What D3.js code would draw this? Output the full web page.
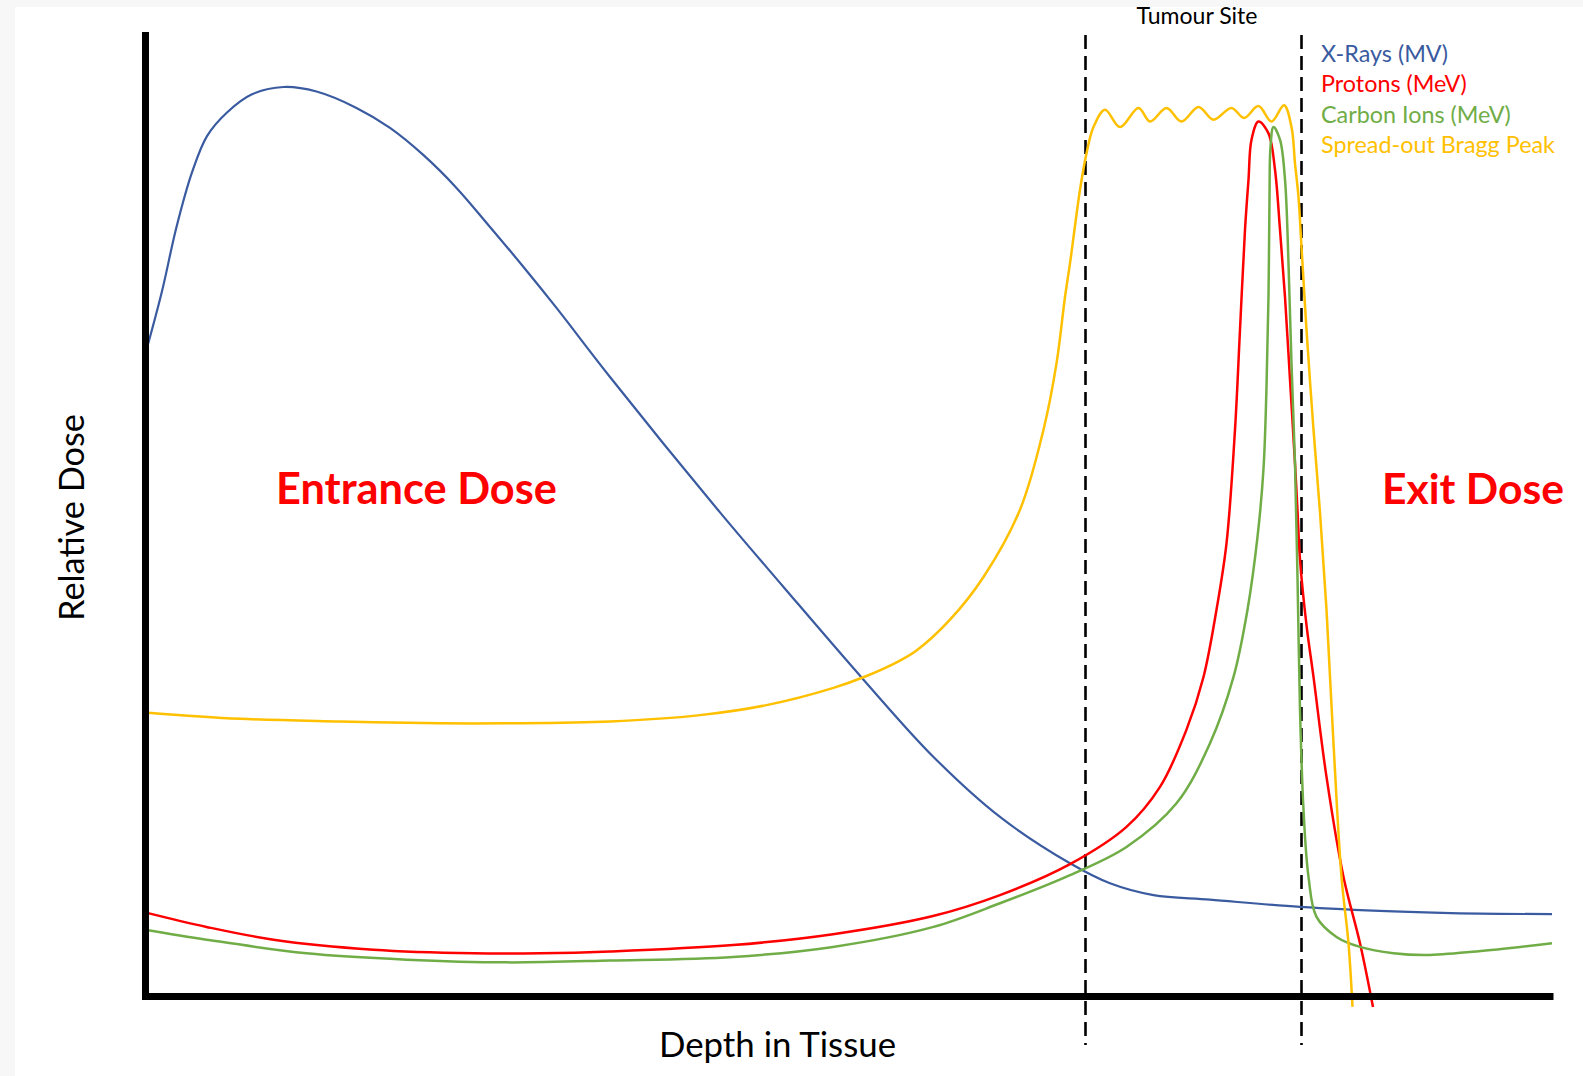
<!DOCTYPE html>
<html>
<head>
<meta charset="utf-8">
<script src="https://cdn.jsdelivr.net/npm/d3@7"></script>
<style>
  html, body { margin: 0; padding: 0; background: #f7f7f7; }
  svg { display: block; }
  text { font-family: Lato, "Open Sans", sans-serif; }
</style>
</head>
<body>
<svg id="chart" width="1583" height="1076"></svg>
<script>
// ---------- DATA (depth in arbitrary units, relative dose in %) ----------
const seriesNames = ["X-Rays (MV)", "Protons (MeV)", "Carbon Ions (MeV)", "Spread-out Bragg Peak"];
const seriesColors = ["#3a5ba0", "#ff0000", "#70ad47", "#ffc000"];

const xrays = [
  [0,70.5],[0.33,77.3],[0.63,84.6],[0.94,90.6],[1.24,94.6],[1.64,97.2],[2.14,99.2],[2.77,100],
  [3.43,99.5],[4.23,97.7],[4.9,95.5],[5.57,92.5],[6.23,88.9],[6.9,84.6],[7.57,80.2],[8.23,75.7],
  [9.3,68.1],[11.5,53.2],[12.77,45.0],[14.37,34.8],[15.77,26.3],[17.1,19.7],[18.5,14.6],
  [19.3,12.4],[20.17,11.1],[21.3,10.6],[23.1,9.8],[24.97,9.3],[26.3,9.1],[28.14,9.0]
];
const protons = [
  [0,9.2],[1.23,7.6],[2.57,6.2],[4.57,5.1],[6.57,4.7],[7.9,4.7],[9.3,4.9],[11.76,5.6],
  [13.76,6.8],[15.76,8.8],[17.1,11.1],[18.5,14.5],[19.63,18.6],[20.3,23.0],[20.83,29.3],
  [21.17,35.1],[21.43,42.5],[21.63,49.8],[21.8,62.3],[21.9,73.3],[22.0,84.3],[22.07,89.8],
  [22.13,94.2],[22.27,96.2],[22.47,94.9],[22.6,90.9],[22.7,84.3],[22.8,76.9],[22.9,67.8],
  [23.0,58.6],[23.05,53.4],[23.1,48.0],[23.23,40.8],[23.37,35.1],[23.63,24.1],[23.97,13.1],
  [24.3,5.8],[24.56,-1.2]
];
const carbon = [
  [0,7.3],[1.23,6.2],[3.23,4.7],[5.23,4.0],[7.23,3.7],[9.3,3.9],[11.76,4.3],[13.76,5.4],
  [15.77,7.6],[17.1,10.2],[18.5,13.3],[19.63,16.4],[20.63,21.2],[21.3,27.8],[21.77,35.1],
  [22.05,42.5],[22.25,50.5],[22.37,58.0],[22.43,67.0],[22.47,77.0],[22.49,87.9],[22.51,93.4],
  [22.57,95.6],[22.7,94.2],[22.8,89.8],[22.87,80.6],[22.93,69.6],[23.0,58.6],[23.05,46.1],
  [23.1,31.5],[23.17,20.5],[23.27,13.1],[23.43,8.7],[23.83,6.5],[24.3,5.4],[24.97,4.7],
  [25.63,4.5],[26.63,4.9],[28.14,5.8]
];
const sobp = [
  [0,31.2],[1.9,30.5],[3.9,30.2],[5.9,30.0],[7.23,30.0],[9.3,30.2],[11.1,30.9],[12.43,32.0],
  [13.77,33.9],[14.43,35.2],[15.1,36.9],[15.43,38.0],[16.1,41.4],[16.77,46.1],[17.5,53.5],
  [17.97,62.3],[18.23,69.6],[18.4,76.9],[18.5,80.6],[18.7,88.7],[18.83,92.7],[18.97,95.6],
  [19.2,97.5],[19.5,95.6],[19.87,97.7],[20.1,96.2],[20.43,97.7],[20.73,96.2],[21.07,97.8],
  [21.37,96.4],[21.73,97.7],[21.98,96.6],[22.27,97.9],[22.53,96.2],[22.78,98.0],[22.93,95.6],
  [23.0,91.6],[23.07,87.9],[23.13,82.4],[23.23,73.3],[23.37,62.3],[23.5,53.2],[23.63,42.5],
  [23.77,27.8],[23.93,13.1],[24.07,5.8],[24.15,-1.2]
];
const tumourBounds = [18.81, 23.13];
const xDomain = [0, 28.16];
const yDomain = [0, 100];

// ---------- LAYOUT ----------
const svg = d3.select("#chart");
svg.append("rect").attr("x", 0).attr("y", 0).attr("width", 1583).attr("height", 1076).attr("fill", "#f7f7f7");
svg.append("rect").attr("x", 15).attr("y", 7).attr("width", 1568).attr("height", 1069).attr("fill", "#ffffff");

const x = d3.scaleLinear().domain(xDomain).range([145, 1553]);
const y = d3.scaleLinear().domain(yDomain).range([996, 87]);
const plotTop = 35;

// tumour site dashed lines
svg.append("g").selectAll("line").data(tumourBounds).join("line")
  .attr("x1", d => x(d)).attr("x2", d => x(d))
  .attr("y1", plotTop).attr("y2", 1045)
  .attr("stroke", "#000").attr("stroke-width", 2.6)
  .attr("stroke-dasharray", "14,7");

// curves
const line = d3.line().x(d => x(d[0])).y(d => y(d[1])).curve(d3.curveCatmullRom.alpha(0.5));
const allSeries = [xrays, protons, carbon, sobp];
const widths = [2.2, 2.5, 2.5, 2.5];
svg.append("g").selectAll("path").data(allSeries).join("path")
  .attr("d", line)
  .attr("fill", "none")
  .attr("stroke", (d, i) => seriesColors[i])
  .attr("stroke-width", (d, i) => widths[i])
  .attr("stroke-linejoin", "round");

// axes (thick black L)
const yAxisScale = d3.scaleLinear().domain([0, y.invert(plotTop)]).range([996, plotTop]);
svg.append("g").attr("transform", `translate(${x(0)},0)`)
  .call(d3.axisLeft(yAxisScale).tickValues([]).tickSizeOuter(0))
  .call(g => g.select(".domain").attr("stroke", "#000").attr("stroke-width", 7).attr("stroke-linecap", "square"));
svg.append("g").attr("transform", `translate(0,${y(0)})`)
  .call(d3.axisBottom(x).tickValues([]).tickSizeOuter(0))
  .call(g => g.select(".domain").attr("stroke", "#000").attr("stroke-width", 7));

// helper: scale font to a target width
function fit(sel, target) {
  const node = sel.node();
  const fs = parseFloat(sel.attr("font-size"));
  const w = node.getComputedTextLength();
  sel.attr("font-size", (fs * target / w).toFixed(2));
}

// labels
const ts = svg.append("text").attr("x", 1197).attr("y", 24).attr("text-anchor", "middle")
  .attr("font-size", 24).attr("fill", "#000").text("Tumour Site");
fit(ts, 121);

const legend = svg.append("g");
const legendY = [61.7, 91.7, 122.5, 152.7];
const lt = legend.selectAll("text").data(seriesNames).join("text")
  .attr("x", 1321).attr("y", (d, i) => legendY[i])
  .attr("font-size", 24).attr("fill", (d, i) => seriesColors[i]).text(d => d);
{
  const longest = lt.filter((d, i) => i === 3).node().getComputedTextLength();
  lt.attr("font-size", (24 * 234 / longest).toFixed(2));
}

const en = svg.append("text").attr("x", 276).attr("y", 504)
  .attr("font-size", 46).attr("font-weight", "bold").attr("fill", "#ff0000").text("Entrance Dose");
fit(en, 281);
const ex = svg.append("text").attr("x", 1382).attr("y", 504)
  .attr("font-size", 46).attr("font-weight", "bold").attr("fill", "#ff0000").text("Exit Dose");
fit(ex, 182);

const rd = svg.append("text").attr("transform", "translate(84,517.5) rotate(-90)")
  .attr("text-anchor", "middle").attr("font-size", 36).attr("fill", "#000").text("Relative Dose");
fit(rd, 207);
const dt = svg.append("text").attr("x", 659).attr("y", 1057)
  .attr("font-size", 36).attr("fill", "#000").text("Depth in Tissue");
fit(dt, 237);
</script>
</body>
</html>
